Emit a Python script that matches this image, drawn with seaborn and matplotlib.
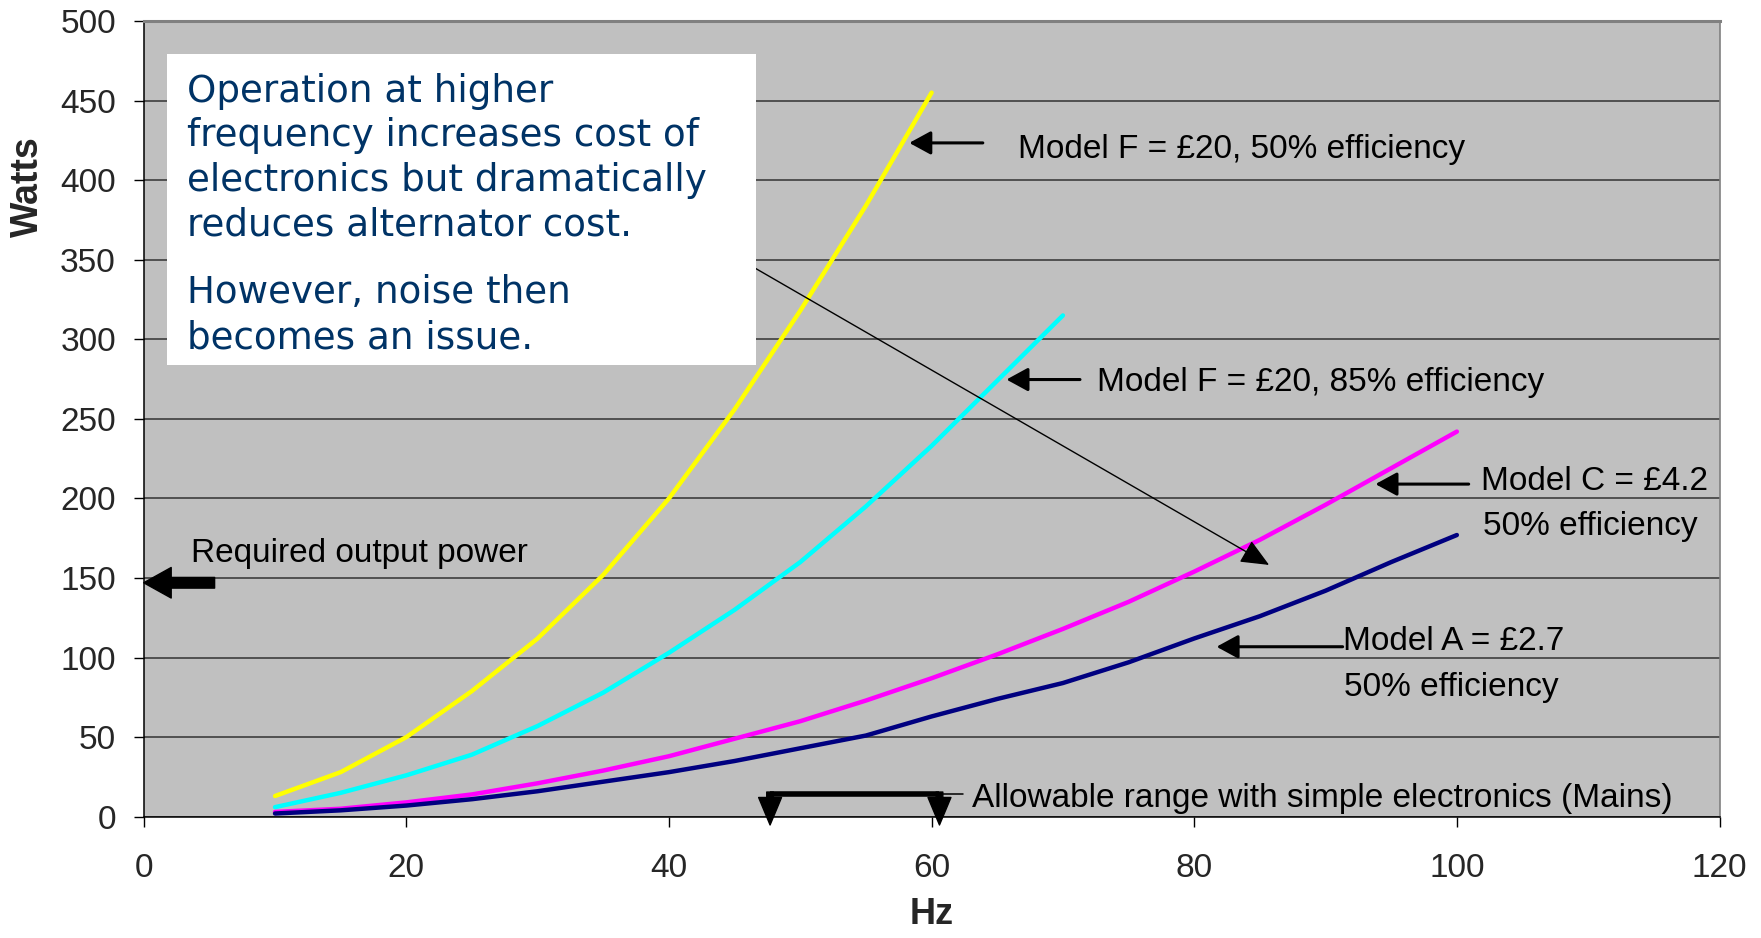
import matplotlib
matplotlib.use("Agg")
import matplotlib.pyplot as plt
import seaborn as sns
import pandas as pd
from matplotlib.patches import Rectangle

# ---------------- data ----------------
hz_f50 = [10, 15, 20, 25, 30, 35, 40, 45, 50, 55, 60]
watts_f50 = [13, 28, 50, 79, 112, 152, 200, 256, 318, 384, 455]

hz_f85 = [10, 15, 20, 25, 30, 35, 40, 45, 50, 55, 60, 65, 70]
watts_f85 = [6, 15, 26, 39, 57, 78, 103, 130, 160, 195, 233, 274, 315]

hz_c = [10, 15, 20, 25, 30, 35, 40, 45, 50, 55, 60, 65, 70, 75, 80, 85, 90, 95, 100]
watts_c = [3, 5, 9, 14, 21, 29, 38, 49, 60, 73, 87, 102, 118, 135, 154, 174, 196, 219, 242]

hz_a = [10, 15, 20, 25, 30, 35, 40, 45, 50, 55, 60, 65, 70, 75, 80, 85, 90, 95, 100]
watts_a = [2, 4, 7, 11, 16, 22, 28, 35, 43, 51, 63, 74, 84, 97, 112, 126, 142, 160, 177]

series_names = ["Model F 50%", "Model F 85%", "Model C", "Model A"]
series_colors = ["#FFFF00", "#00FFFF", "#FF00FF", "#000080"]

x_ticks = [0, 20, 40, 60, 80, 100, 120]
y_ticks = [0, 50, 100, 150, 200, 250, 300, 350, 400, 450, 500]

required_power = 150
mains_range = [47.7, 60.6]

box_lines_1 = ["Operation at higher", "frequency increases cost of",
               "electronics but dramatically", "reduces alternator cost."]
box_lines_2 = ["However, noise then", "becomes an issue."]

# ---------------- build frame ----------------
frames = []
for name, xs, ys in zip(series_names, [hz_f50, hz_f85, hz_c, hz_a],
                        [watts_f50, watts_f85, watts_c, watts_a]):
    frames.append(pd.DataFrame({"Hz": xs, "Watts": ys, "series": name}))
df = pd.concat(frames, ignore_index=True)

sns.set_theme(style="white")
plt.rcParams["font.family"] = ["Liberation Sans", "DejaVu Sans"]

W, H = 1761, 938
fig = plt.figure(figsize=(W / 100, H / 100), dpi=100)
ax_left, ax_right, ax_top, ax_bottom = 143.7, 1719.5, 21.0, 816.7
ax = fig.add_axes([ax_left / W, 1 - ax_bottom / H,
                   (ax_right - ax_left) / W, (ax_bottom - ax_top) / H])
ax.set_facecolor("#C0C0C0")

sns.lineplot(data=df, x="Hz", y="Watts", hue="series", hue_order=series_names,
             palette=series_colors, linewidth=3.2, legend=False, sort=False, ax=ax,
             zorder=3)

ax.set_xlim(0, 120)
ax.set_ylim(0, 500)
ax.set_xticks(x_ticks)
ax.set_yticks(y_ticks)
ax.set_xticklabels([str(v) for v in x_ticks])
ax.set_yticklabels([str(v) for v in y_ticks])
ax.tick_params(axis="x", direction="out", length=7, width=1, color="black",
               labelsize=24, pad=19, bottom=True)
ax.tick_params(axis="y", direction="out", length=7, width=1, color="black",
               labelsize=24, pad=13, left=True)
ax.yaxis.grid(True, color="#333333", linewidth=1.1)
ax.xaxis.grid(False)
ax.set_axisbelow(True)

for s in ["left", "bottom"]:
    ax.spines[s].set_color("black")
    ax.spines[s].set_linewidth(1.1)
ax.spines["top"].set_color("#808080")
ax.spines["top"].set_linewidth(2.2)
ax.spines["right"].set_color("#808080")
ax.spines["right"].set_linewidth(1.2)

ax.set_xlabel("Hz", fontsize=26, fontweight="bold")
ax.set_ylabel("Watts", fontsize=27, fontweight="bold")
ax.xaxis.label.set(va="center", ha="center")
ax.yaxis.label.set(va="center", ha="center", rotation_mode="anchor")
axw = ax_right - ax_left
axh = ax_bottom - ax_top
ax.xaxis.set_label_coords(0.5, (ax_bottom - 914) / axh)
ax.yaxis.set_label_coords((28 - ax_left) / axw, (ax_bottom - 187) / axh)

# ---------------- text box ----------------
def fx(px):
    return (px - ax_left) / axw

def fy(py):
    return (ax_bottom - py) / axh

box = Rectangle((fx(167.3), fy(365)), fx(756) - fx(167.3), fy(54) - fy(365),
                transform=ax.transAxes, facecolor="white", edgecolor="none",
                zorder=5)
ax.add_patch(box)
baselines_1 = [101.7, 146.4, 191.1, 235.8]
baselines_2 = [303.0, 348.0]
for line, b in zip(box_lines_1 + box_lines_2, baselines_1 + baselines_2):
    ax.text(fx(186.7), fy(b), line, transform=ax.transAxes, fontsize=26.8,
            color="#003366", family=["DejaVu Sans"], va="baseline",
            ha="left", zorder=6)

# ---------------- annotations ----------------
txt_kw = dict(fontsize=24, color="black", va="center", ha="left", zorder=7)
arr_kw = dict(arrowstyle="-|>,head_length=0.55,head_width=0.3", lw=2.2,
              color="black", shrinkA=0, shrinkB=0, mutation_scale=24)

ax.text(66.6, 419.5, "Model F = £20, 50% efficiency", **txt_kw)
ax.annotate("", xy=(58.3, 423.4), xytext=(63.9, 423.4), arrowprops=arr_kw, zorder=7)

ax.text(72.6, 272.7, "Model F = £20, 85% efficiency", **txt_kw)
ax.annotate("", xy=(65.7, 274.7), xytext=(71.3, 274.7), arrowprops=arr_kw, zorder=7)

ax.text(101.8, 210.6, "Model C = £4.2", **txt_kw)
ax.text(102.0, 182.4, "50% efficiency", **txt_kw)
ax.annotate("", xy=(93.8, 209), xytext=(100.9, 209), arrowprops=arr_kw, zorder=7)

ax.text(91.3, 110.4, "Model A = £2.7", **txt_kw)
ax.text(91.4, 81.4, "50% efficiency", **txt_kw)
ax.annotate("", xy=(81.7, 106.8), xytext=(91.3, 106.8), arrowprops=arr_kw, zorder=7)

# required output power block arrow
ax.text(3.6, 165.4, "Required output power", **txt_kw)
ax.annotate("", xy=(0, required_power - 3), xytext=(5.4, required_power - 3),
            arrowprops=dict(arrowstyle="simple,head_length=0.9,head_width=1.0,tail_width=0.35",
                            color="black", shrinkA=0, shrinkB=0, mutation_scale=22),
            annotation_clip=False, zorder=7)

# allowable range bracket
ax.plot(mains_range, [14.3, 14.3], color="black", lw=4, solid_capstyle="butt",
        zorder=7, clip_on=False)
ax.plot([mains_range[1], 62.4], [14.3, 14.3], color="black", lw=1.1, zorder=7)
for xv in mains_range:
    ax.annotate("", xy=(xv, -5.2), xytext=(xv, 15.5),
                arrowprops=dict(arrowstyle="simple,head_length=0.9,head_width=0.75,tail_width=0.22",
                                color="black", shrinkA=0, shrinkB=0, mutation_scale=22),
                annotation_clip=False, zorder=7)
ax.text(63.1, 11.6, "Allowable range with simple electronics (Mains)", **txt_kw)

# long diagonal arrow
ax.annotate("", xy=(85.7, 158.2), xytext=(46.6, 344.5),
            arrowprops=dict(arrowstyle="-|>,head_length=0.8,head_width=0.35", lw=1.0,
                            color="black", shrinkA=0, shrinkB=0, mutation_scale=22),
            zorder=4)

fig.savefig("out.png", dpi=100)
